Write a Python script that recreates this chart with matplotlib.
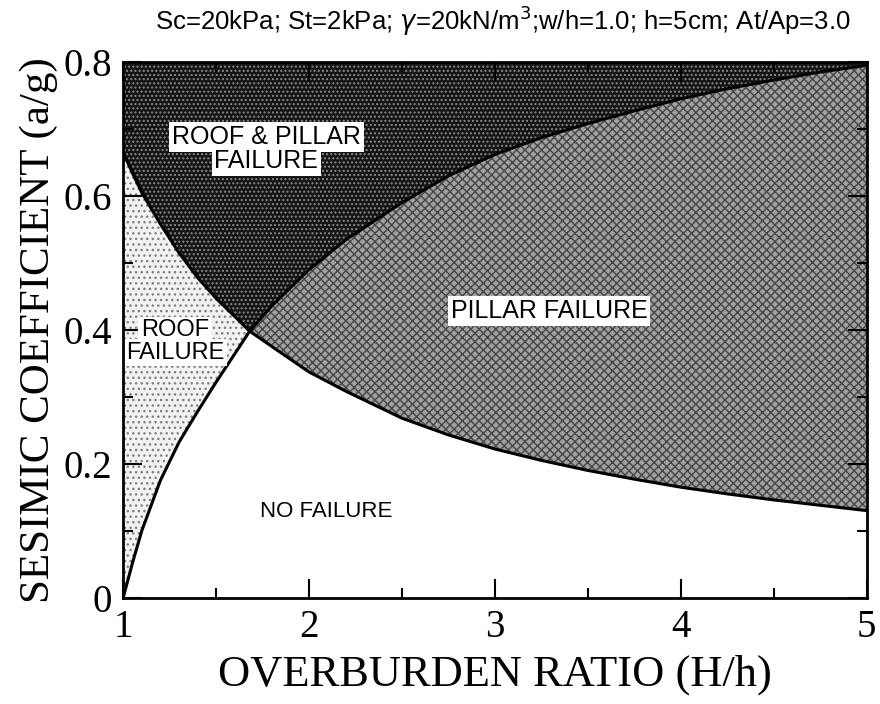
import numpy as np
import matplotlib
matplotlib.use("Agg")
import matplotlib.pyplot as plt
from matplotlib.ticker import MultipleLocator

# overburden ratio H/h and the two threshold curves (a/g)
h_ratio = [1.0, 1.05, 1.1, 1.2, 1.3, 1.4, 1.5, 1.6, 1.68, 1.8, 2.0, 2.2, 2.5,
           2.75, 3.0, 3.25, 3.5, 3.75, 4.0, 4.25, 4.5, 4.75, 5.0]
roof_limit = [0.0, 0.052, 0.1, 0.175, 0.232, 0.278, 0.322, 0.364, 0.398,
              0.436, 0.49, 0.535, 0.59, 0.63, 0.662, 0.687, 0.708, 0.727,
              0.745, 0.76, 0.773, 0.785, 0.795]
pillar_limit = [0.665, 0.634, 0.605, 0.558, 0.515, 0.478, 0.447, 0.42, 0.398,
                0.375, 0.337, 0.308, 0.268, 0.243, 0.222, 0.205, 0.19, 0.177,
                0.165, 0.155, 0.146, 0.138, 0.13]

x_ticks = [1, 2, 3, 4, 5]
y_ticks = [0, 0.2, 0.4, 0.6, 0.8]
y_tick_labels = ["0", "0.2", "0.4", "0.6", "0.8"]

x = np.array(h_ratio)
roof = np.array(roof_limit)
pillar = np.array(pillar_limit)

plt.rcParams["hatch.linewidth"] = 1.0
serif = ["Liberation Serif", "DejaVu Serif"]
sans = ["Liberation Sans", "DejaVu Sans"]

fig = plt.figure(figsize=(8.8, 7.04), dpi=100)
ax = fig.add_axes([0.14, 0.151, 0.845, 0.761])

top = np.maximum(roof, pillar)
ax.fill_between(x, top, 0.8, facecolor="#141414", edgecolor="#8a8a8a",
                hatch="....", lw=0, zorder=1)
ax.fill_between(x, roof, pillar, where=pillar >= roof, interpolate=True,
                facecolor="#f2f2f2", edgecolor="#808080", hatch="...", lw=0, zorder=1)
ax.fill_between(x, pillar, roof, where=roof >= pillar, interpolate=True,
                facecolor="#a0a0a0", edgecolor="#454545", hatch="xxxx", lw=0, zorder=1)

ax.plot(x, roof, color="black", lw=2.2, zorder=3)
ax.plot(x, pillar, color="black", lw=2.2, zorder=3)

box = dict(facecolor="white", edgecolor="none", pad=2)
lbl = dict(family=sans, fontsize=18, ha="center", va="center", zorder=4)
ax.text(1.77, 0.688, "ROOF & PILLAR", bbox=box, **lbl)
ax.text(1.77, 0.652, "FAILURE", bbox=box, **lbl)
ax.text(3.29, 0.428, "PILLAR FAILURE", bbox=box, **lbl)
lbl["fontsize"] = 17
ax.text(1.28, 0.399, "ROOF", bbox=box, **lbl)
ax.text(1.28, 0.366, "FAILURE", bbox=box, **lbl)
ax.text(2.09, 0.128, "NO FAILURE", family=sans, fontsize=16, ha="center",
        va="center", zorder=4)

ax.set_xlim(1, 5)
ax.set_ylim(0, 0.8)
ax.set_xticks(x_ticks)
ax.set_yticks(y_ticks)
ax.set_yticklabels(y_tick_labels)
ax.xaxis.set_minor_locator(MultipleLocator(0.5))
ax.yaxis.set_minor_locator(MultipleLocator(0.1))
ax.tick_params(which="both", direction="in", top=True, right=True, width=1.5)
ax.tick_params(which="major", length=14, pad=8)
ax.tick_params(which="minor", length=7)
for t in ax.get_xticklabels() + ax.get_yticklabels():
    t.set_family(serif)
    t.set_fontsize(28)
for s in ax.spines.values():
    s.set_linewidth(2)
    s.set_zorder(5)

ax.set_xlabel("OVERBURDEN RATIO (H/h)", family=serif, fontsize=32, labelpad=6)
ax.set_ylabel("SESIMIC COEFFICIENT (a/g)", family=serif, fontsize=31, labelpad=4)

fig.text(0.572, 0.97, r"Sc=20kPa; St=2kPa; $\gamma$=20kN/m$^3$;w/h=1.0; h=5cm; At/Ap=3.0",
         family=sans, fontsize=18.5, ha="center", va="center")

fig.savefig("out.png", dpi=100)
plt.close(fig)
